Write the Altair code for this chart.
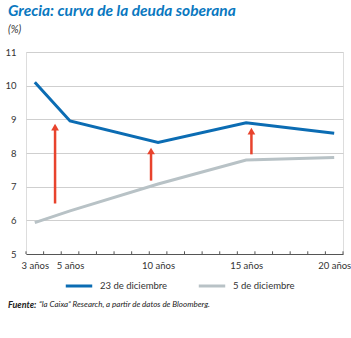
import altair as alt
import pandas as pd

years = [3, 5, 10, 15, 20]
dic23 = [10.1, 8.95, 8.31, 8.9, 8.59]
dic5 = [5.93, 6.28, 7.08, 7.79, 7.87]
series = ["23 de diciembre", "5 de diciembre"]
colors = ["#0b6cb3", "#b8c2c6"]

arrow_x = [4.15, 9.6, 15.3]
arrow_base = [6.5, 7.18, 7.96]
arrow_tip = [8.88, 8.17, 8.76]

ylevels = [5, 6, 7, 8, 9, 10, 11]
tick_pos = [2.5 + i for i in range(19)]

rows = []
for y, a, b in zip(years, dic23, dic5):
    rows.append({"plazo": y, "valor": a, "serie": series[0]})
    rows.append({"plazo": y, "valor": b, "serie": series[1]})
df = pd.DataFrame(rows)
arrows = pd.DataFrame({"x": arrow_x, "y0": arrow_base, "y1": arrow_tip})
arrows["shaft_end"] = arrows["y1"] - 0.15
arrows["head"] = arrows["y1"] - 0.11
ticks = pd.DataFrame({"x": tick_pos})

FONT = "Lato"
xs = alt.Scale(domain=[2.5, 20.5], nice=False, zero=False)
ys = alt.Scale(domain=[5, 11], nice=False, zero=False)

xaxis = alt.Axis(values=years, title=None, ticks=False, grid=False,
                 labelExpr="datum.value + ' años'", labelFontSize=9.5,
                 labelColor="#333", labelFont=FONT, labelPadding=6,
                 domainColor="#555", domainWidth=1)
yaxis = alt.Axis(values=ylevels, tickCount=7, title=None, ticks=False,
                 domain=False, gridColor="#cfcfcf", gridWidth=1,
                 labelFontSize=9.5, labelColor="#333", labelFont=FONT,
                 labelPadding=10, labelOverlap=False)

lines = alt.Chart(df).mark_line(strokeWidth=3).encode(
    x=alt.X("plazo:Q", scale=xs, axis=xaxis),
    y=alt.Y("valor:Q", scale=ys, axis=yaxis),
    color=alt.Color("serie:N", scale=alt.Scale(domain=series, range=colors),
                    sort=series,
                    legend=alt.Legend(title=None, orient="none", direction="horizontal",
                                      legendX=38, legendY=219, symbolType="stroke",
                                      symbolStrokeWidth=3, symbolSize=700,
                                      labelFontSize=9.5, labelFont=FONT,
                                      labelColor="#333", columnPadding=24,
                                      labelOffset=6)),
)

tickmarks = alt.Chart(ticks).mark_rule(color="#555", strokeWidth=1).encode(
    x=alt.X("x:Q", scale=xs, axis=xaxis),
    y=alt.Y(datum=5, scale=ys, axis=yaxis),
    y2=alt.datum(5.08),
)

shafts = alt.Chart(arrows).mark_rule(color="#e8432d", strokeWidth=2.5).encode(
    x=alt.X("x:Q", scale=xs, axis=xaxis),
    y=alt.Y("y0:Q", scale=ys, axis=yaxis),
    y2="shaft_end:Q",
)
heads = alt.Chart(arrows).mark_point(shape="triangle-up", filled=True, size=60,
                                    color="#e8432d", opacity=1).encode(
    x=alt.X("x:Q", scale=xs, axis=xaxis),
    y=alt.Y("head:Q", scale=ys, axis=yaxis),
)

fuente_b = alt.Chart(pd.DataFrame({"t": ["Fuente:"]})).mark_text(
    align="left", baseline="middle", font=FONT, fontSize=9,
    fontStyle="italic", fontWeight="bold", color="#222"
).encode(text="t:N", x=alt.value(-18), y=alt.value(253))
fuente_r = alt.Chart(pd.DataFrame({"t": ["\u201cla Caixa\u201d Research, a partir de datos de Bloomberg."]})).mark_text(
    align="left", baseline="middle", font=FONT, fontSize=8,
    fontStyle="italic", color="#222"
).encode(text="t:N", x=alt.value(13), y=alt.value(253))

chart = alt.layer(lines, tickmarks, shafts, heads, fuente_b, fuente_r).properties(
    width=317, height=202,
    padding={"left": 26, "top": 52, "right": 8, "bottom": 84},
    autosize=alt.AutoSizeParams(type="none"),
    title=alt.TitleParams(
        text="Grecia: curva de la deuda soberana", subtitle="(%)",
        anchor="start", frame="group", dx=-18, offset=12,
        font=FONT, fontSize=15.5, fontStyle="italic", fontWeight="bold",
        color="#0a78c0", subtitleFont=FONT, subtitleFontSize=10.5,
        subtitleFontStyle="italic", subtitleColor="#333", subtitlePadding=5,
    ),
).configure_view(stroke=None).configure(background="white")

chart.save("out.html", embed_options={"renderer": "svg", "actions": False})
